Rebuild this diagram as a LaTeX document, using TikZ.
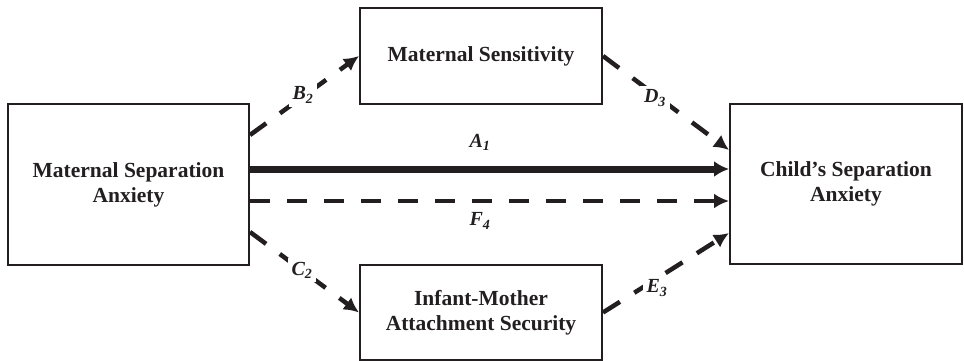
\documentclass[tikz,border=0pt]{standalone}
\usepackage{fontspec}
\setmainfont{Liberation Serif}
\usetikzlibrary{arrows.meta}
\definecolor{ink}{HTML}{231F20}
\begin{document}
\begin{tikzpicture}[x=1pt,y=-1pt,
  box/.style={draw=ink,line width=2pt,rectangle,inner sep=0pt,align=center,
    font=\fontsize{21.5}{25}\selectfont\bfseries,text=ink},
  dashpath/.style={draw=ink,line width=4.5pt,dash pattern=on 20pt off 17pt,
    -{Latex[length=15pt,width=15pt]}},
  solidpath/.style={draw=ink,line width=7pt,-{Latex[length=15pt,width=16pt]}},
  lab/.style={font=\fontsize{20}{24}\selectfont\bfseries\itshape,text=ink,inner sep=4pt,fill=white}]
\useasboundingbox (0,0) rectangle (964,361);
\node[box,minimum width=241pt,minimum height=161pt] (msa) at (128.5,184.5) {Maternal Separation\\Anxiety};
\node[box,minimum width=242pt,minimum height=96pt] (ms) at (481,56) {Maternal Sensitivity};
\node[box,minimum width=242pt,minimum height=95pt] (ima) at (481,312.5) {Infant-Mother\\Attachment Security};
\node[box,minimum width=232pt,minimum height=160pt] (csa) at (846,184) {Child's Separation\\Anxiety};

\coordinate (a1s) at ([yshift=15.5pt]msa.east);
\coordinate (f4s) at ([yshift=-16.5pt]msa.east);
\coordinate (b2s) at ([yshift=49.5pt]msa.east);
\coordinate (c2s) at ([yshift=-47.5pt]msa.east);
\coordinate (d3e) at ([yshift=34pt]csa.west);
\coordinate (e3e) at ([yshift=-49pt]csa.west);

\draw[solidpath] (a1s) -- (a1s -| csa.west);
\draw[dashpath] (f4s) -- (f4s -| csa.west);
\draw[dashpath] (b2s) -- (ms.west);
\draw[dashpath] (c2s) -- (ima.west);
\draw[dashpath] (ms.east) -- (d3e);
\draw[dashpath] (ima.east) -- (e3e);

\node[lab] (la) at (480,142) {A\textsubscript{1}};
\node[lab] (lf) at (480,221) {F\textsubscript{4}};
\node[lab] (lb) at (303,95) {B\textsubscript{2}};
\node[lab] (ld) at (655,98) {D\textsubscript{3}};
\node[lab] (lc) at (302,270) {C\textsubscript{2}};
\node[lab] (le) at (657,288) {E\textsubscript{3}};
\end{tikzpicture}
\end{document}
